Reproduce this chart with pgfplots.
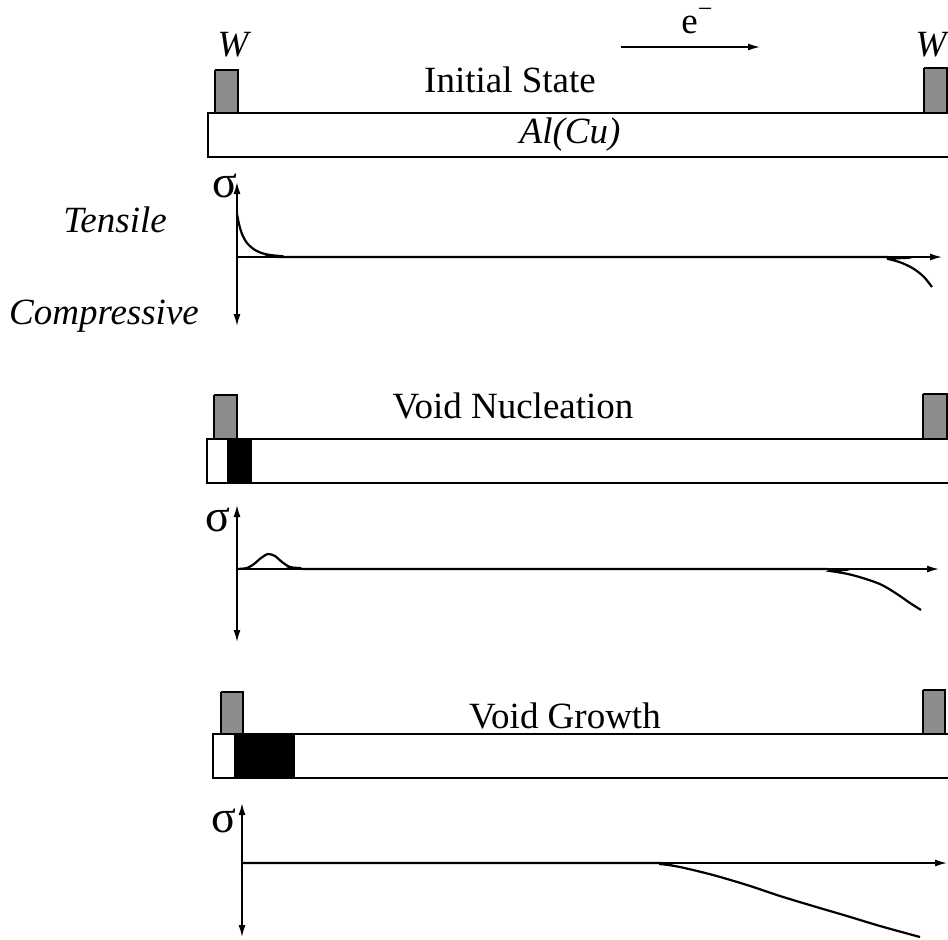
\documentclass[border=0pt]{standalone}
\usepackage{fontspec}
\setmainfont{Liberation Serif}
\usepackage{pgfplots}
\pgfplotsset{compat=1.18}
\usetikzlibrary{arrows.meta}
\begin{document}
\begin{tikzpicture}[
  ar/.style={line width=0.75pt,-{Latex[length=6pt,width=3.5pt]}},
  dar/.style={line width=0.75pt,{Latex[length=6pt,width=3.5pt]}-{Latex[length=6pt,width=3.5pt]}},
  pad/.style={fill=black!45,draw=black,line width=0.6pt},
  void/.style={fill=black,draw=black,line width=0.6pt},
  bar/.style={draw=black,line width=0.6pt},
  crv/.style={black,line width=1.1pt,smooth,tension=0.5},
  lbl/.style={font=\fontsize{18.5}{20}\selectfont,inner sep=0pt},
  sig/.style={font=\fontsize{23}{24}\selectfont,inner sep=0pt}]
\begin{axis}[width=474pt,height=469.5pt,scale only axis,
  xmin=0,xmax=948,ymin=0,ymax=939,y dir=reverse,
  axis lines=none,clip=false]
% ---------------- Initial state ----------------
\node[lbl] at (axis cs:233,45) {\itshape W};
\node[lbl] at (axis cs:931,45) {\itshape W};
\node[lbl,anchor=base] at (axis cs:697,33) {e\raisebox{0.42em}{\fontsize{13}{13}\selectfont −}};
\addplot[ar] coordinates {(621,47)(760,47)};
\node[lbl] at (axis cs:510,80) {Initial State};
\addplot[pad] coordinates {(215,70)(238,70)(238,113)(215,113)(215,70)};
\addplot[pad] coordinates {(924,68)(947,68)(947,113)(924,113)(924,68)};
\addplot[bar] coordinates {(948,113)(208,113)(208,157)(948,157)};
\node[lbl] at (axis cs:570,135) {\itshape Al(Cu)};
\node[lbl] at (axis cs:115,220) {\itshape Tensile};
\node[lbl] at (axis cs:104,316) {\itshape Compressive};
\node[sig] at (axis cs:225,186) {σ};
\addplot[dar] coordinates {(237,182)(237,326)};
\addplot[ar] coordinates {(237,257)(942,257)};
\addplot[crv] coordinates {(237,214)(239,224)(242,234)(247,243)(255,250)(265,254)(280,256)(310,257)(870,257)(888,259)(902,263)(914,269)(924,277)(932,287)};
% ---------------- Void nucleation ----------------
\node[lbl] at (axis cs:513,406) {Void Nucleation};
\addplot[pad] coordinates {(214,395)(237,395)(237,439)(214,439)(214,395)};
\addplot[pad] coordinates {(923,394)(947,394)(947,439)(923,439)(923,394)};
\addplot[bar] coordinates {(948,439)(207,439)(207,483)(948,483)};
\addplot[void] coordinates {(228,439)(251,439)(251,483)(228,483)(228,439)};
\node[sig] at (axis cs:218,520) {σ};
\addplot[dar] coordinates {(237,505)(237,642)};
\addplot[ar] coordinates {(237,569)(939,569)};
\addplot[crv] coordinates {(237,569)(247,568)(254,564)(261,558)(268,554)(275,556)(282,562)(290,567)(300,568)(330,569)(813,569)(830,571)(848,574)(866,579)(882,585)(897,594)(910,603)(921,610)};
% ---------------- Void growth ----------------
\node[lbl] at (axis cs:565,716) {Void Growth};
\addplot[pad] coordinates {(221,692)(243,692)(243,734)(221,734)(221,692)};
\addplot[pad] coordinates {(923,690)(945,690)(945,734)(923,734)(923,690)};
\addplot[bar] coordinates {(948,734)(213,734)(213,778)(948,778)};
\addplot[void] coordinates {(235,734)(294,734)(294,778)(235,778)(235,734)};
\node[sig] at (axis cs:224,821) {σ};
\addplot[dar] coordinates {(242,803)(242,937)};
\addplot[ar] coordinates {(242,863)(947,863)};
\addplot[crv] coordinates {(242,863)(640,863)(660,864)(680,867)(713,875)(747,885)(780,896)(813,906)(847,916)(880,926)(920,937)};
\end{axis}
\pgfresetboundingbox
\path (current axis.south west) rectangle (current axis.north east);
\end{tikzpicture}
\end{document}
